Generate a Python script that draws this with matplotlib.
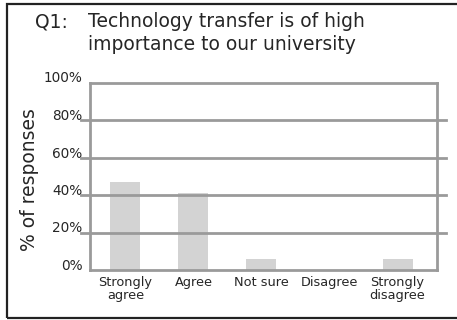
import matplotlib
matplotlib.use("Agg")
import matplotlib.pyplot as plt
from matplotlib.patches import Rectangle

# survey responses, Q1
categories = ["Strongly\nagree", "Agree", "Not sure", "Disagree", "Strongly\ndisagree"]
percent = [47, 41, 6, 0, 6]
yticks = [0, 20, 40, 60, 80, 100]
ytick_labels = ["0%", "20%", "40%", "60%", "80%", "100%"]

W, H = 457, 320
GRID = "#9a9a9a"
BAR = "#d3d3d3"
TEXT = "#262626"

plt.rcParams["font.family"] = ["DejaVu Sans"]

fig = plt.figure(figsize=(W / 100, H / 100), dpi=100, facecolor="white")

# outer frame (left/top/bottom, open on the right)
fig.add_artist(Rectangle((7 / W, 2.5 / H), 1.2, (316.5 - 2.5) / H,
                         transform=fig.transFigure, fill=False,
                         edgecolor="#222222", linewidth=1.6))

# title, two lines after the question number
fig.text(35 / W, 1 - 27 / H, "Q1:", fontsize=13.5, color=TEXT, va="baseline", ha="left")
fig.text(88 / W, 1 - 27 / H, "Technology transfer is of high",
         fontsize=13.5, color=TEXT, va="baseline", ha="left")
fig.text(88 / W, 1 - 50 / H, "importance to our university",
         fontsize=13.5, color=TEXT, va="baseline", ha="left")

ax = fig.add_axes([90 / W, 50 / H, (437 - 90) / W, (270 - 82.5) / H])
x = list(range(len(categories)))
ax.bar(x, percent, width=0.44, color=BAR, zorder=1)

ax.set_xlim(-0.52, 4.58)
ax.set_ylim(0, 100)

# horizontal rules run past the frame on both sides
for v in yticks[1:-1]:
    ax.axhline(v, xmin=-0.025, xmax=1.025, color=GRID, linewidth=2, clip_on=False, zorder=2)

for s in ax.spines.values():
    s.set_color(GRID)
    s.set_linewidth(2)
ax.spines["bottom"].set_zorder(3)

ax.set_yticks(yticks)
ax.set_yticklabels(ytick_labels, fontsize=9.8, color=TEXT, va="baseline")
ax.tick_params(axis="y", length=0, pad=5.5)
ax.set_xticks(x)
ax.set_xticklabels(categories, fontsize=9.3, color=TEXT, linespacing=1.05)
ax.tick_params(axis="x", length=0, pad=4)

ax.set_ylabel("% of responses", fontsize=13.5, color=TEXT)
ax.yaxis.set_label_coords(-51 / (437 - 90), (270 - 180) / (270 - 82.5))

fig.savefig("out.png", dpi=100, facecolor="white")
